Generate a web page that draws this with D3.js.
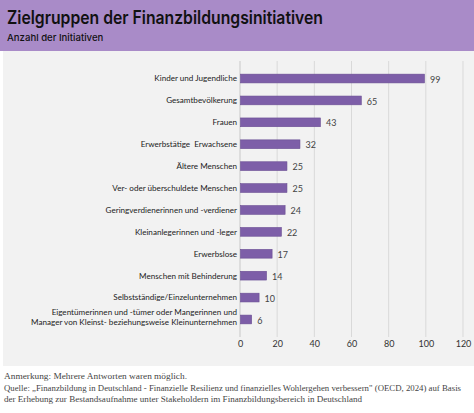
<!DOCTYPE html>
<html><head><meta charset="utf-8">
<script src="https://cdn.jsdelivr.net/npm/d3@7"></script>
<style>
html,body{margin:0;padding:0;background:#fff;}
svg{display:block;}
</style></head>
<body>
<script>
const categories = [
  "Kinder und Jugendliche",
  "Gesamtbevölkerung",
  "Frauen",
  "Erwerbstätige  Erwachsene",
  "Ältere Menschen",
  "Ver- oder überschuldete Menschen",
  "Geringverdienerinnen und -verdiener",
  "Kleinanlegerinnen und -leger",
  "Erwerbslose",
  "Menschen mit Behinderung",
  "Selbstständige/Einzelunternehmen",
  "Eigentümerinnen und -tümer oder Mangerinnen und|Manager von Kleinst- beziehungsweise Kleinunternehmen"
];
const values = [99, 65, 43, 32, 25, 25, 24, 22, 17, 14, 10, 6];
const ticks = [0, 20, 40, 60, 80, 100, 120];
const title = "Zielgruppen der Finanzbildungsinitiativen";
const subtitle = "Anzahl der Initiativen";
const notes = [
  "Anmerkung: Mehrere Antworten waren möglich.",
  "Quelle: „Finanzbildung in Deutschland - Finanzielle Resilienz und finanzielles Wohlergehen verbessern\" (OECD, 2024) auf Basis",
  "der Erhebung zur Bestandsaufnahme unter Stakeholdern im Finanzbildungsbereich in Deutschland"
];

const W = 474, H = 413;
const svg = d3.select("body").append("svg").attr("width", W).attr("height", H);

// header
svg.append("rect").attr("x",0).attr("y",0).attr("width",W).attr("height",51).attr("fill","#a98bc8");
svg.append("text").attr("x",7).attr("y",24).text(title)
  .attr("font-family","Inter, 'Liberation Sans', sans-serif").attr("font-weight",600)
  .attr("font-size",18).attr("fill","#111").attr("textLength",316).attr("lengthAdjust","spacingAndGlyphs");
svg.append("text").attr("x",7).attr("y",41).text(subtitle)
  .attr("font-family","Inter, 'Liberation Sans', sans-serif").attr("font-weight",500)
  .attr("font-size",9.6).attr("fill","#111");

// panel
svg.append("rect").attr("x",3).attr("y",51).attr("width",W-3).attr("height",315).attr("fill","#f2f2f2");

const x = d3.scaleLinear().domain([0,120]).range([240,463]);
const y = d3.scaleBand().domain(categories).range([61,337]).padding(0.6);

// grid
const g = svg.append("g");
g.selectAll("line.grid").data(ticks).enter().append("line")
  .attr("x1",d=>x(d)).attr("x2",d=>x(d)).attr("y1",61).attr("y2",337)
  .attr("stroke",d=>d===0?"#c8c8c8":"#d9d9d9").attr("stroke-width",1);

// x axis ticks labels
const xAxis = d3.axisBottom(x).tickValues(ticks).tickSize(0).tickPadding(0);
const ax = svg.append("g").attr("transform","translate(0,341)").call(xAxis);
ax.select(".domain").remove();
ax.selectAll("text").attr("font-family","Lato, 'Open Sans', sans-serif").attr("font-size",9)
  .attr("fill","#333").attr("dy","0.71em");

// bars
svg.selectAll("rect.bar").data(values).enter().append("rect")
  .attr("x",x(0)+0.5).attr("y",(d,i)=>y(categories[i]))
  .attr("width",d=>x(d)-x(0)).attr("height",y.bandwidth())
  .attr("fill","#7d5ea8").attr("stroke","#6a4e93").attr("stroke-width",0.6);

// value labels
svg.selectAll("text.val").data(values).enter().append("text")
  .attr("x",d=>x(d)+6).attr("y",(d,i)=>y(categories[i])+y.bandwidth()/2+1)
  .attr("dy","0.35em").text(d=>d)
  .attr("font-family","Lato, 'Open Sans', sans-serif").attr("font-size",9).attr("fill","#444");

// category labels
categories.forEach((c,i)=>{
  const lines = c.split("|");
  const cy = y(c)+y.bandwidth()/2;
  const lh = 10;
  const t = svg.append("text").attr("text-anchor","end")
    .attr("font-family","Lato, 'Open Sans', sans-serif").attr("font-size",8.1).attr("fill","#222")
    .attr("xml:space","preserve");
  lines.forEach((l,k)=>{
    t.append("tspan").attr("x",237)
      .attr("y", cy - (lines.length-1)*lh/2 + k*lh - (lines.length>1?2:0))
      .attr("dy","0.35em").text(l);
  });
});

// notes
const noteW = [183, 457, 358];
notes.forEach((n,i)=>{
  svg.append("text").attr("x",4).attr("y",379+i*11.5).text(n)
    .attr("font-family","'Liberation Serif', 'DejaVu Serif', serif").attr("font-size",9).attr("fill","#444")
    .attr("textLength",noteW[i]).attr("lengthAdjust","spacingAndGlyphs");
});
</script>
</body></html>
